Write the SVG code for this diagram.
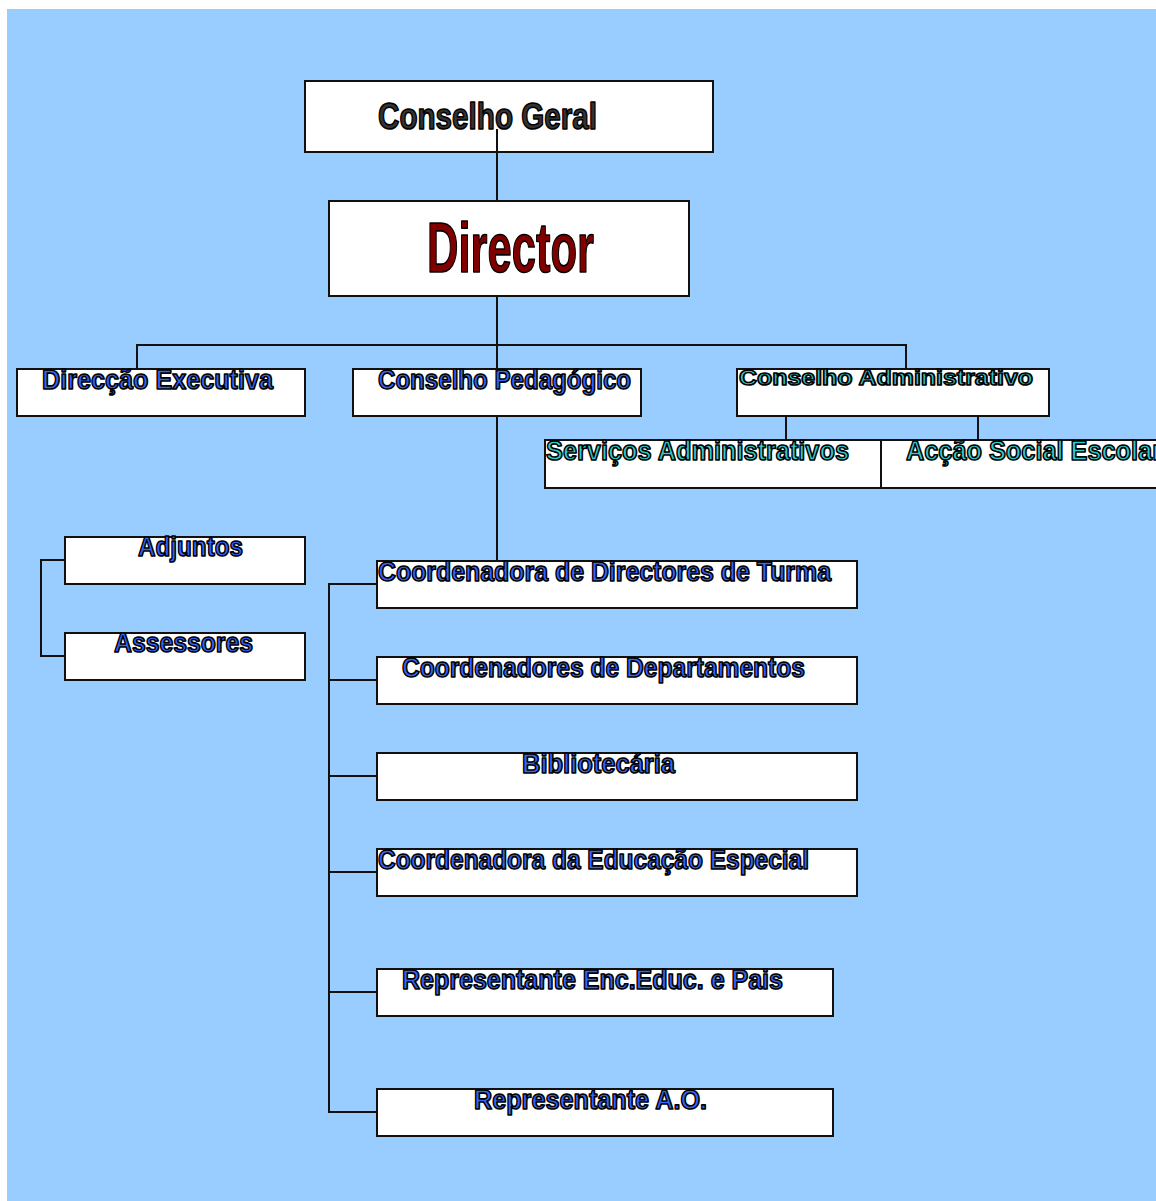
<svg xmlns="http://www.w3.org/2000/svg" width="1156" height="1201" viewBox="0 0 1156 1201">
<style>
.box{fill:#fff;stroke:#111;stroke-width:2}
.ln{fill:none;stroke:#111;stroke-width:2}
.t{font-family:"Liberation Sans",Arial,sans-serif;font-weight:bold;stroke:#000;stroke-width:1.6;stroke-linejoin:round}
.b{fill:#3366ff}
.c{fill:#33cccc}
.s{font-size:27px}
</style>
<rect x="0" y="0" width="1156" height="1201" fill="#fff"/>
<rect x="7" y="9" width="1149" height="1192" fill="#99ccff"/>

<g id="conselho-geral">
<rect class="box" x="305" y="81" width="408" height="71"/>
<text class="t" x="378" y="129" font-size="37" fill="#333" textLength="219" lengthAdjust="spacingAndGlyphs">Conselho Geral</text>
</g>
<g id="director">
<rect class="box" x="329" y="201" width="360" height="95"/>
<text class="t" x="427" y="272" font-size="71" fill="#800000" textLength="167" lengthAdjust="spacingAndGlyphs" stroke-width="2">Director</text>
</g>
<g id="direccao-executiva">
<rect class="box" x="17" y="369" width="288" height="47"/>
<text class="t b s" x="42" y="389" textLength="231" lengthAdjust="spacingAndGlyphs">Direcção Executiva</text>
</g>
<g id="conselho-pedagogico">
<rect class="box" x="353" y="369" width="288" height="47"/>
<text class="t b s" x="378" y="389" textLength="253" lengthAdjust="spacingAndGlyphs">Conselho Pedagógico</text>
</g>
<g id="conselho-administrativo">
<rect class="box" x="737" y="369" width="312" height="47"/>
<text class="t c" x="739" y="385" font-size="22" textLength="294" lengthAdjust="spacingAndGlyphs">Conselho Administrativo</text>
</g>
<g id="servicos-administrativos">
<rect class="box" x="545" y="440" width="336" height="48"/>
<text class="t c s" x="546" y="460" textLength="303" lengthAdjust="spacingAndGlyphs">Serviços Administrativos</text>
</g>
<g id="accao-social-escolar">
<rect class="box" x="881" y="440" width="290" height="48"/>
<text class="t c s" x="906" y="460" textLength="256" lengthAdjust="spacingAndGlyphs">Acção Social Escolar</text>
</g>
<g id="adjuntos">
<rect class="box" x="65" y="537" width="240" height="47"/>
<text class="t b s" x="138" y="556" textLength="105" lengthAdjust="spacingAndGlyphs">Adjuntos</text>
</g>
<g id="assessores">
<rect class="box" x="65" y="633" width="240" height="47"/>
<text class="t b s" x="114" y="652" textLength="139" lengthAdjust="spacingAndGlyphs">Assessores</text>
</g>
<g id="coord-dt">
<rect class="box" x="377" y="561" width="480" height="47"/>
<text class="t b s" x="378" y="581" textLength="453" lengthAdjust="spacingAndGlyphs">Coordenadora de Directores de Turma</text>
</g>
<g id="coord-dep">
<rect class="box" x="377" y="657" width="480" height="47"/>
<text class="t b s" x="402" y="677" textLength="403" lengthAdjust="spacingAndGlyphs">Coordenadores de Departamentos</text>
</g>
<g id="bibliotecaria">
<rect class="box" x="377" y="753" width="480" height="47"/>
<text class="t b s" x="522" y="773" textLength="153" lengthAdjust="spacingAndGlyphs">Bibliotecária</text>
</g>
<g id="coord-ee">
<rect class="box" x="377" y="849" width="480" height="47"/>
<text class="t b s" x="378" y="869" textLength="431" lengthAdjust="spacingAndGlyphs">Coordenadora da Educação Especial</text>
</g>
<g id="rep-enc">
<rect class="box" x="377" y="969" width="456" height="47"/>
<text class="t b s" x="402" y="989" textLength="381" lengthAdjust="spacingAndGlyphs">Representante Enc.Educ. e Pais</text>
</g>
<g id="rep-ao">
<rect class="box" x="377" y="1089" width="456" height="47"/>
<text class="t b s" x="474" y="1109" textLength="233" lengthAdjust="spacingAndGlyphs">Representante A.O.</text>
</g>

<g id="connectors">
<path class="ln" d="M497 129V201"/>
<path class="ln" d="M497 296V372"/>
<path class="ln" d="M137 369V345H906V369"/>
<path class="ln" d="M786 416V440M978 416V440"/>
<path class="ln" d="M497 416V561"/>
<path class="ln" d="M65 560H41V656H65"/>
<path class="ln" d="M377 584H329V1112H377M329 680H377M329 776H377M329 872H377M329 992H377"/>
</g>
</svg>
